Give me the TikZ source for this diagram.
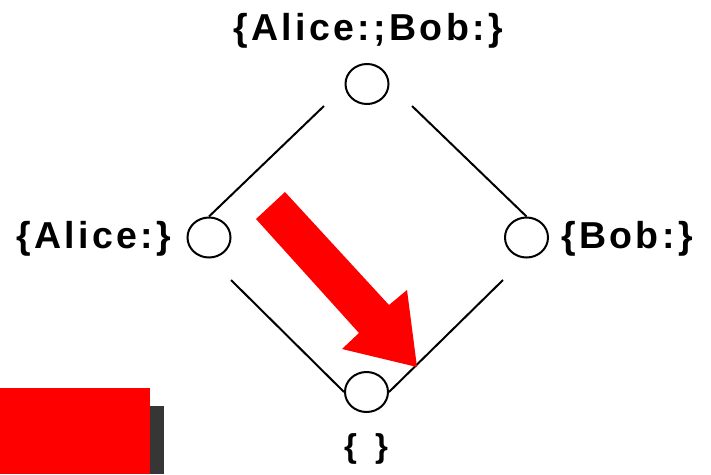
\documentclass[tikz,border=0pt]{standalone}
\usepackage{fontspec}
\setmainfont{Liberation Sans}
\newfontfamily\lblfont[LetterSpace=9]{Liberation Sans}
\usetikzlibrary{shapes.geometric}
\definecolor{shadowgray}{HTML}{363636}
\tikzset{
  state/.style={draw=black, line width=2pt, ellipse, minimum width=43pt, minimum height=40pt, inner sep=0pt},
  edge/.style={draw=black, line width=2pt},
  lbl/.style={inner sep=0pt, font=\lblfont\bfseries\fontsize{37.5}{40}\selectfont},
  smalllbl/.style={inner sep=0pt, font=\lblfont\bfseries\fontsize{33}{35}\selectfont}
}
\begin{document}
\begin{tikzpicture}[x=1pt,y=-1pt]
\useasboundingbox[fill=white] (0,0) rectangle (711,474);
\node[state] (top) at (367,84) {};
\node[state] (left) at (209,237.5) {};
\node[state] (right) at (526.5,237.5) {};
\node[state] (bottom) at (366.5,392) {};
\draw[edge] ([shift={(-43,22)}]top.center) -- (left.north);
\draw[edge] ([shift={(45,22)}]top.center) -- (right.north);
\draw[edge] ([shift={(22,42.5)}]left.center) -- (bottom.west);
\draw[edge] ([shift={(-23.5,42.5)}]right.center) -- (bottom.east);
\fill[red] (285,192) -- (256,219) -- (359,333) -- (342,349) -- (417,367) -- (407,290) -- (389,305) -- cycle;
\fill[red] (0,388) rectangle (150,474);
\fill[shadowgray] (150,406) rectangle (164,474);
\node[lbl, anchor=base] (toplbl) at (368,40) {\{Alice:;Bob:\}};
\node[lbl, anchor=base west] (leftlbl) at (16,248) {\{Alice:\}};
\node[lbl, anchor=base west] (rightlbl) at (561,248) {\{Bob:\}};
\node[smalllbl, anchor=base west] (bottomlbl) at (344,457) {\{\hspace{18pt}\}};
\end{tikzpicture}
\end{document}
